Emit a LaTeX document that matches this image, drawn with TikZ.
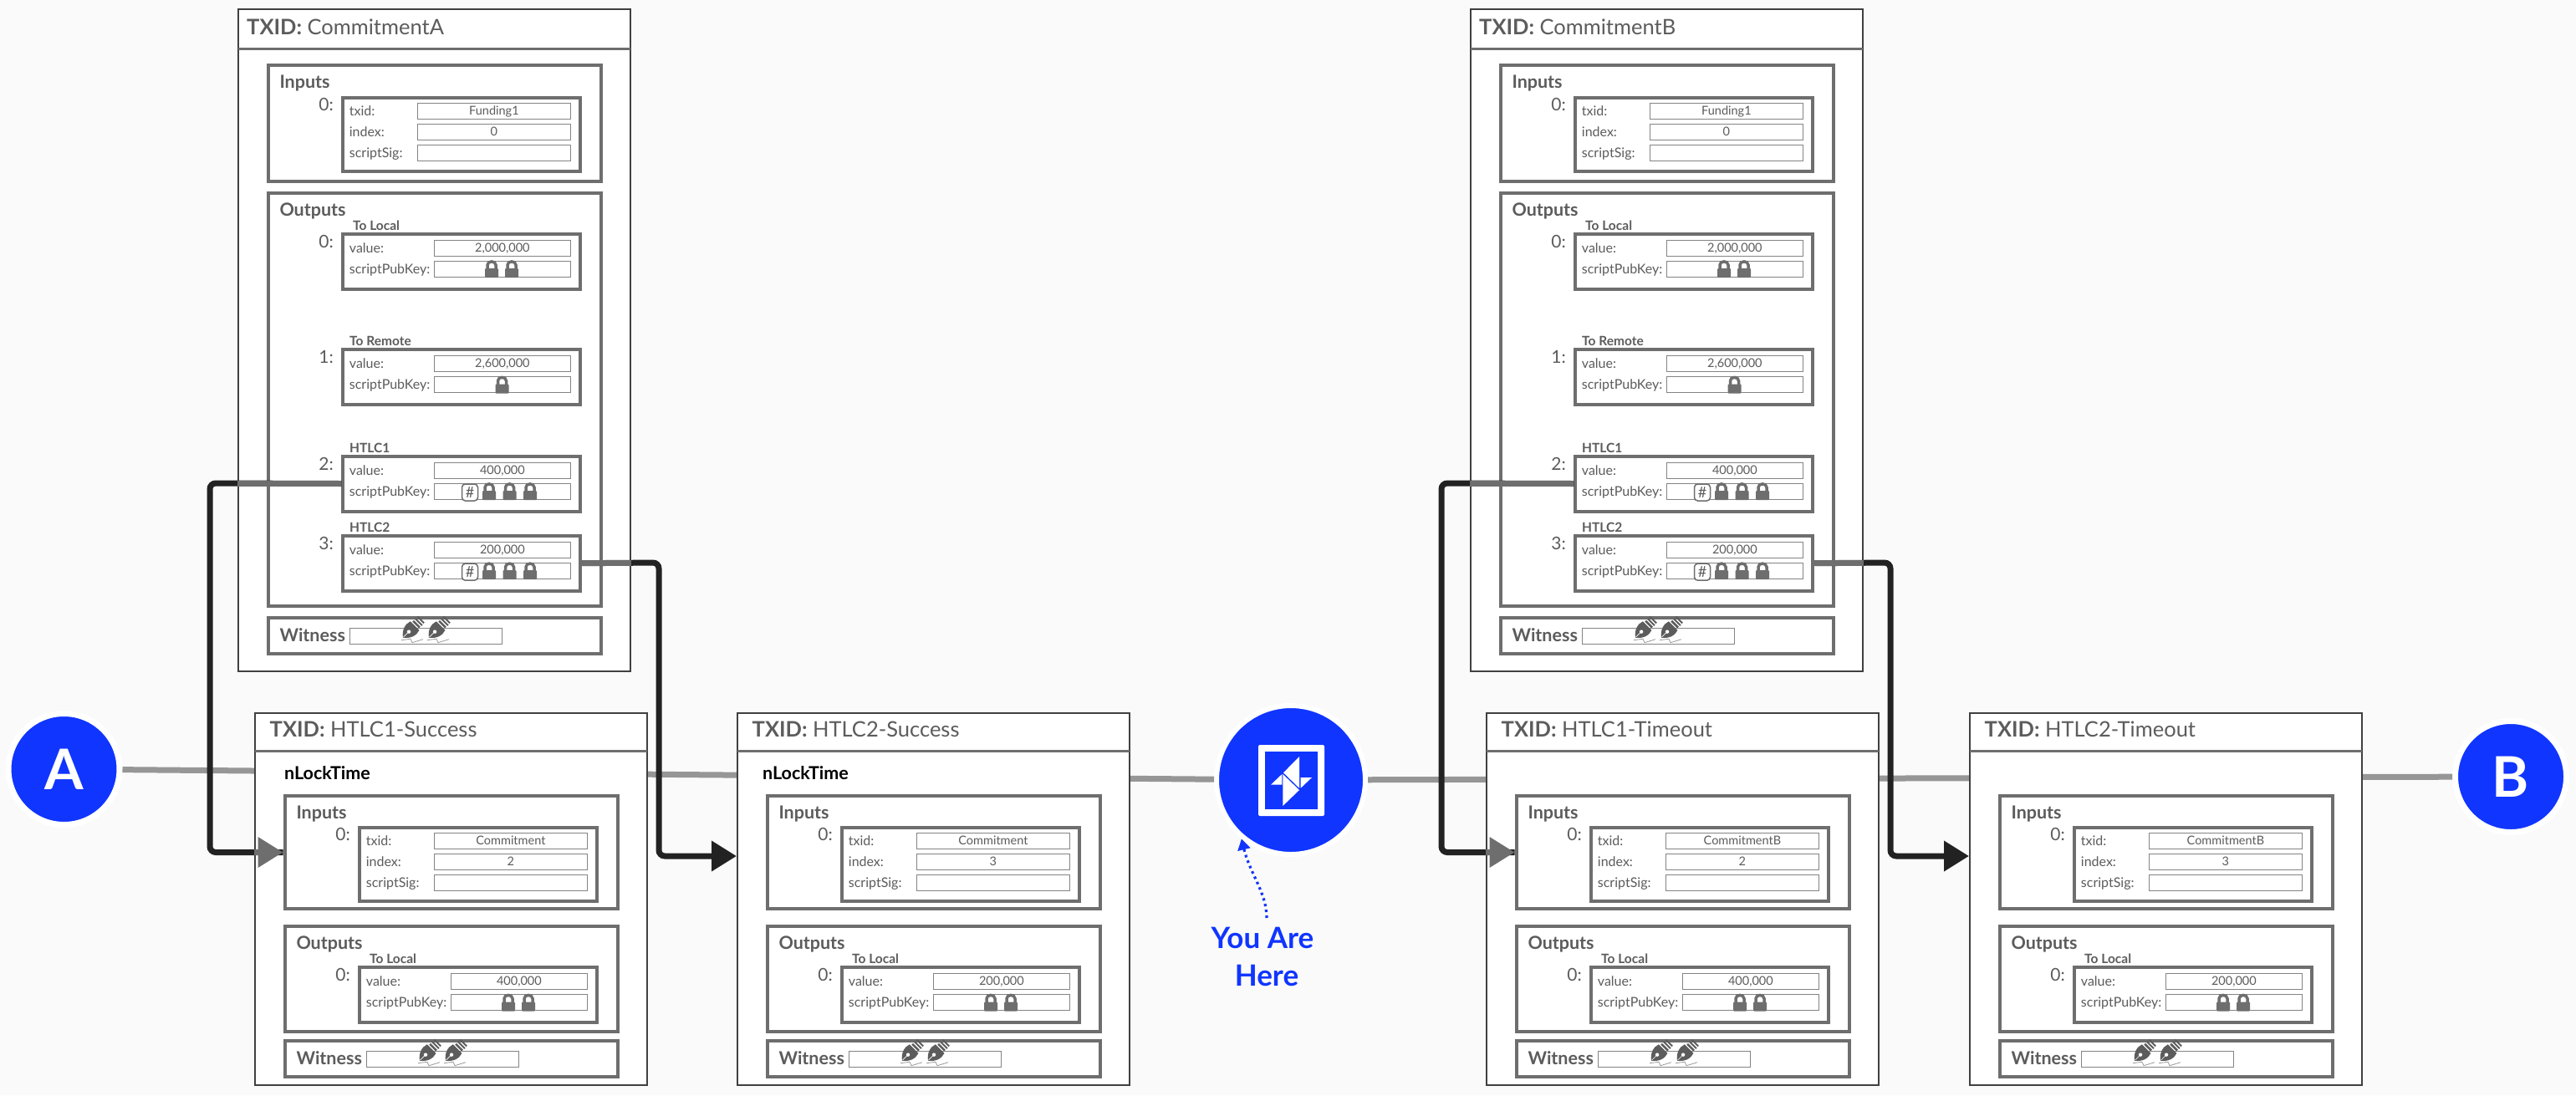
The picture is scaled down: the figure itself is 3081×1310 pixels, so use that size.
\documentclass[tikz,border=0pt]{standalone}
\usepackage{fontspec}
\setmainfont{Lato}
\usetikzlibrary{arrows.meta}

\definecolor{pagegray}{HTML}{FAFAFA}
\definecolor{boxgray}{HTML}{6E6E6E}
\definecolor{textgray}{HTML}{5C5C5C}
\definecolor{wiregray}{HTML}{969696}
\definecolor{linkblack}{HTML}{222222}
\definecolor{nodeblue}{HTML}{1035FF}

\tikzset{
  txbox/.style={draw=black!75,fill=white,line width=2pt,anchor=north west,inner sep=0pt,minimum width=469pt},
  groupbox/.style={draw=boxgray,fill=white,line width=4pt,anchor=north west,inner sep=0pt,minimum width=398pt},
  itembox/.style={draw=boxgray,fill=white,line width=4pt,anchor=north west,inner sep=0pt,minimum width=284pt},
  fieldbox/.style={draw=boxgray!85,fill=white,line width=1.4pt,anchor=north west,inner sep=0pt,minimum height=19pt,
    text=textgray,font=\fontsize{14.5}{16}\selectfont,text height=10pt,text depth=1pt},
  txtitle/.style={anchor=mid west,inner sep=0pt,text=textgray,font=\fontsize{25.5}{28}\selectfont},
  grouptitle/.style={anchor=mid west,inner sep=0pt,text=textgray,font=\fontsize{21.5}{24}\selectfont\bfseries},
  tagtitle/.style={anchor=mid west,inner sep=0pt,text=textgray,font=\fontsize{15.5}{18}\selectfont\bfseries},
  fieldlabel/.style={anchor=mid west,inner sep=0pt,text=textgray,font=\fontsize{16}{18}\selectfont},
  itemnumber/.style={anchor=mid east,inner sep=0pt,text=textgray,font=\fontsize{21}{24}\selectfont},
  hashbox/.style={draw=boxgray,fill=white,line width=1.5pt,rounded corners=4pt,inner sep=0pt,minimum width=19pt,minimum height=20pt,
    text=textgray,font=\fontsize{18}{20}\selectfont},
  endnode/.style={circle,fill=nodeblue,draw=white,line width=7pt,inner sep=0pt,minimum size=133pt,text=white,font=\fontsize{67}{70}\selectfont\bfseries},
  wire/.style={draw=wiregray,line width=7pt},
  blacklink/.style={draw=linkblack,line width=7pt,rounded corners=7pt},
  graylink/.style={draw=boxgray,line width=7pt},
  tiplink/.style={-{Triangle[length=30pt,width=35pt]}},
  herelabel/.style={inner sep=0pt,text=nodeblue,font=\fontsize{35}{38}\selectfont\bfseries},
  lockicon/.pic={
    \fill[boxgray,rounded corners=1pt] (-8,0) rectangle (8,-11);
    \draw[boxgray,line width=3.5pt] (-5,-10) -- (-5,-15) .. controls (-5,-20.5) and (5,-20.5) .. (5,-15) -- (5,-10);
  },
  penicon/.pic={
    \draw[boxgray!70,line width=0.8pt] (-2,3) -- (9,1.5) -- (11,6) -- (24,2);
    \begin{scope}[rotate=45]
      \fill[textgray] (0,0) .. controls (5,7) and (13,10) .. (20,7.5) -- (20,-7.5) .. controls (13,-10) and (5,-7) .. (0,0);
      \fill[textgray] (21.5,-5.5) rectangle (24,5.5);
      \fill[textgray] (25.5,-6) rectangle (27.5,6);
      \fill[textgray] (29,-5.5) rectangle (31,5.5);
      \draw[white,line width=0.7pt] (1,0) -- (8,0);
      \fill[white] (10,0) circle (2.2pt);
    \end{scope}
  },
}

% field: name, label x, field x, width, y, label, value
\newcommand{\fieldrow}[7]{
  \node[fieldlabel] (#1label) at (#2,#5+13) {#6};
  \node[fieldbox,minimum width=#4pt] (#1field) at (#3,#5) {#7};
}

% big frame: name, height, header y, title x, title
\newcommand{\txframe}[5]{
  \node[txbox,minimum height=#2pt] (#1) at (0,0) {};
  \draw[boxgray,line width=3pt] (1,#3) -- (470,#3);
  \node[txtitle] (#1title) at (#4,#3-19) {\textbf{TXID:} #5};
}

% group: name, y, height, title
\newcommand{\txgroup}[4]{
  \node[groupbox,minimum height=#3pt] (#1) at (34.5,#2) {};
  \node[grouptitle] (#1title) at (50.3,#2+27) {#4};
}

% input: name, y, txid, index
\newcommand{\txinput}[4]{
  \node[itemnumber] (#1num) at (115,#2+15) {0:};
  \node[itembox,minimum height=88pt] (#1) at (124.3,#2) {};
  \fieldrow{#1a}{133.7}{214.7}{183}{#2+8}{txid:}{#3}
  \fieldrow{#1b}{133.7}{214.7}{183}{#2+32.5}{index:}{#4}
  \fieldrow{#1c}{133.7}{214.7}{183}{#2+57.5}{scriptSig:}{}
}

% output: name, y, number, tag, tag x, value, lock positions
\newcommand{\txoutput}[7]{
  \node[tagtitle] (#1tag) at (#5,#2-5) {#4};
  \node[itemnumber] (#1num) at (115,#2+16) {#3:};
  \node[itembox,minimum height=66pt] (#1) at (124.3,#2) {};
  \fieldrow{#1a}{133.7}{234.7}{163}{#2+9}{value:}{#6}
  \fieldrow{#1b}{133.7}{234.7}{163}{#2+34}{scriptPubKey:}{}
  \foreach \lockx in {#7} \pic at (\lockx,#2+54.5) {lockicon};
}

% witness: name, y
\newcommand{\txwitness}[2]{
  \node[groupbox,minimum height=43pt] (#1) at (34.5,#2) {};
  \node[grouptitle] (#1title) at (50.3,#2+28) {Witness};
  \node[fieldbox,minimum width=182pt] (#1field) at (134,#2+14) {};
  \foreach \penx in {198,229} \pic at (\penx,#2+26) {penicon};
}

% commitment: name, x, title
\newcommand{\committx}[3]{
  \begin{scope}[shift={(#2,10)}]
    \txframe{#1}{792}{48}{11}{#3}
    \txgroup{#1in}{66}{139}{Inputs}
    \txinput{#1in0}{105}{Funding1}{0}
    \txgroup{#1outs}{219}{494}{Outputs}
    \txoutput{#1out0}{267.5}{0}{To Local}{138}{2,000,000}{304,328}
    \txoutput{#1out1}{406}{1}{To Remote}{134}{2,600,000}{316.5}
    \txoutput{#1out2}{533.5}{2}{HTLC1}{134}{400,000}{301,325.5,350}
    \node[hashbox] (#1hash2) at (278,533.5+45.5) {\#};
    \txoutput{#1out3}{628.7}{3}{HTLC2}{134}{200,000}{301,325.5,350}
    \node[hashbox] (#1hash3) at (278,628.7+45.5) {\#};
    \txwitness{#1wit}{726.7}
  \end{scope}
}

% htlc spend: name, x, title, txid, index, value
\newcommand{\htlctx}[6]{
  \begin{scope}[shift={(#2,852)}]
    \txframe{#1}{445}{46}{18.5}{#3}
    \txgroup{#1in}{98}{135}{Inputs}
    \txinput{#1in0}{136}{#4}{#5}
    \txgroup{#1outs}{253.7}{126}{Outputs}
    \txoutput{#1out0}{303}{0}{To Local}{138}{#6}{304,328}
    \txwitness{#1wit}{390.7}
  \end{scope}
}

\begin{document}
\begin{tikzpicture}[x=1pt,y=-1pt]

% Hintergrund
\fill[pagegray] (0,0) rectangle (3081,1310);

% channel parties
\node[endnode] (partyA) at (76.5,920) {A};
\node[endnode] (partyB) at (3003,929) {B};
\node[endnode,minimum size=178pt,line width=6pt] (logo) at (1544,933) {};

% lines behind the transactions
\draw[wire] (partyA) -- (logo);
\draw[wire] (logo) -- (partyB);

% logo
\fill[white,rounded corners=2pt] (1505,891) rectangle (1584,976);
\fill[nodeblue] (1513,899) rectangle (1576,968);
\fill[white] (1535,924.3) -- (1554,905) -- (1554,942.7) -- cycle;
\fill[white] (1534.3,926) -- (1554,945) -- (1534.3,964) -- cycle;
\fill[white] (1520,938.7) -- (1533.3,926) -- (1533.3,938.7) -- cycle;
\fill[white] (1555.7,930) -- (1569,930) -- (1555.7,942.7) -- cycle;

% commitment transactions
\committx{commitA}{284}{CommitmentA}
\committx{commitB}{1758}{CommitmentB}

% second stage transactions
\htlctx{success1}{304}{HTLC1-Success}{Commitment}{2}{400,000}
\htlctx{success2}{881}{HTLC2-Success}{Commitment}{3}{200,000}
\htlctx{timeout1}{1777}{HTLC1-Timeout}{CommitmentB}{2}{400,000}
\htlctx{timeout2}{2355}{HTLC2-Timeout}{CommitmentB}{3}{200,000}

\node[grouptitle,text=black] (lock1) at (340,930) {nLockTime};
\node[grouptitle,text=black] (lock2) at (912,930) {nLockTime};

% corners and ends of the links
\coordinate (bendA1) at (251,578);
\coordinate (bendA2) at (788,673);
\coordinate (bendB1) at (1724,578);
\coordinate (bendB2) at (2261,673);
\coordinate (endS2) at (881,1024);
\coordinate (endT2) at (2355,1024);

% links
\draw[blacklink] (commitAout2.west) -- (bendA1) |- (success1in.west);
\draw[blacklink,tiplink] (commitAout3.east) -- (bendA2) |- (endS2);
\draw[blacklink] (commitBout2.west) -- (bendB1) |- (timeout1in.west);
\draw[blacklink,tiplink] (commitBout3.east) -- (bendB2) |- (endT2);

% grey parts on top
\draw[graylink] (commitAout2.west) -- (commitAout2.west -| commitA.west);
\draw[graylink] (commitAout3.east) -- (commitAout3.east -| commitA.east);
\draw[graylink] (commitBout2.west) -- (commitBout2.west -| commitB.west);
\draw[graylink] (commitBout3.east) -- (commitBout3.east -| commitB.east);
\draw[graylink,tiplink] (success1in.west -| success1.west) -- (success1in.west);
\draw[graylink,tiplink] (timeout1in.west -| timeout1.west) -- (timeout1in.west);

% you are here
\node[herelabel] (youare) at (1510,1122) {You Are};
\node[herelabel] (here) at (1515,1167) {Here};
\coordinate (hereTail) at (1515,1098);
\draw[nodeblue,line width=3.2pt,dash pattern=on 3pt off 4pt,-{Triangle[length=13pt,width=15pt,sep=0pt]}]
  (hereTail) .. controls (1515,1068) and (1495,1045) .. (logo.230);

\end{tikzpicture}
\end{document}
